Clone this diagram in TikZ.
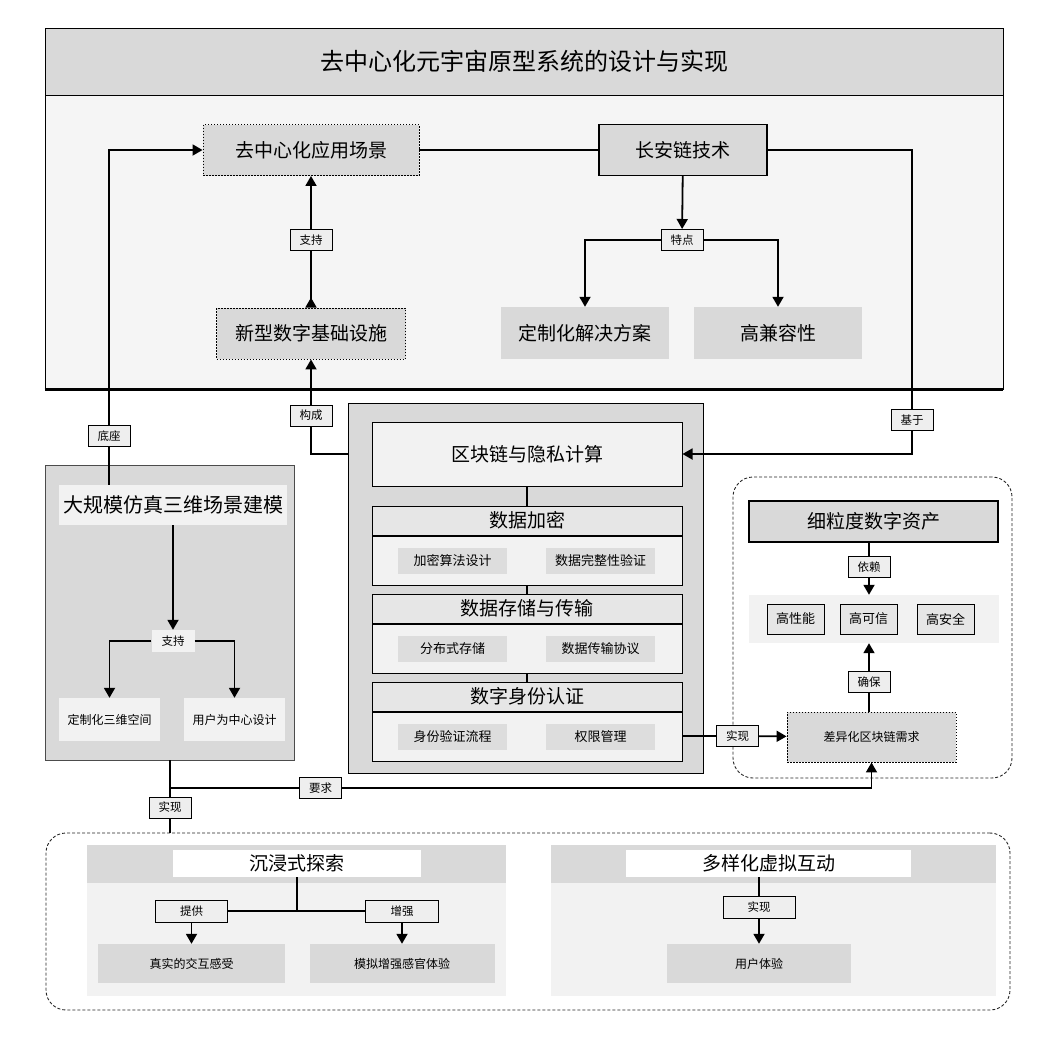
\documentclass[tikz,border=0pt]{standalone}
\usepackage{fontspec}
\setmainfont{Noto Sans CJK SC}
\usetikzlibrary{arrows.meta, positioning, calc}
\definecolor{gdark}{RGB}{217,217,217}
\definecolor{gpanel}{RGB}{245,245,245}
\definecolor{glight}{RGB}{242,242,242}
\definecolor{ghead}{RGB}{230,230,230}
\definecolor{gtag}{RGB}{238,238,238}
\definecolor{gitem}{RGB}{221,221,221}
\newcommand\fsTitle{\fontsize{24}{28}\selectfont}
\newcommand\fsBig{\fontsize{19}{22}\selectfont}
\newcommand\fsMid{\fontsize{13}{16}\selectfont}
\newcommand\fsSmall{\fontsize{12}{15}\selectfont}
\newcommand\fsTag{\fontsize{11.5}{14}\selectfont}

\begin{document}
\begin{tikzpicture}[x=1pt, y=-1pt,
  sz/.style 2 args={minimum width=#1, minimum height=#2},
  box/.style={inner sep=0pt, align=center},
  dark/.style={box, fill=gdark},
  dotbox/.style={dark, draw=black, line width=0.9pt, dash pattern=on 1.5pt off 1.5pt},
  solidbox/.style={dark, draw=black, line width=1.1pt},
  light/.style={box, fill=glight},
  tag/.style={box, fill=gtag, draw=black, line width=1pt, sz={42}{21}, font=\fsTag},
  conn/.style={line width=1.8pt},
  arr/.style={conn, -{Triangle[length=10pt, width=11pt]}},
  frame/.style={box, draw=black!85, line width=0.9pt, dash pattern=on 3pt off 2pt, rounded corners=20pt}]

  \useasboundingbox (0,0) rectangle (1051,1039);

  % system frame
  \node[dark, draw=black, line width=0.9pt, sz={958}{67}, font=\fsTitle] (head) at (524,61.5) {去中心化元宇宙原型系统的设计与实现};
  \node[box, fill=gpanel, draw=black, line width=0.9pt, sz={958}{294}] (panel) at (524,242) {};
  \draw[line width=2.5pt] (panel.south west) -- (panel.south east);

  \node[dotbox, sz={216}{51}, font=\fsBig] (app) at (311,150) {去中心化应用场景};
  \node[solidbox, sz={168}{51}, font=\fsBig] (chain) at (683,150) {长安链技术};
  \node[tag] (feat) at (682,240) {特点};
  \node[dark, sz={168}{52}, font=\fsBig] (custom) at (585,333) {定制化解决方案};
  \node[dark, sz={168}{52}, font=\fsBig] (compat) at (778,333) {高兼容性};
  \node[dotbox, sz={189}{51}, font=\fsBig] (infra) at (311,333.5) {新型数字基础设施};
  \node[tag] (support) at (311,240) {支持};

  \draw[conn] (app) -- (chain);
  \draw[arr] (chain) -- (feat);
  \draw[arr] (feat) -| (custom);
  \draw[arr] (feat) -| (compat);
  \draw[arr] (support) -- (app);
  \draw[conn, {Triangle[length=10pt, width=11pt, reversed]}-] (infra) -- (support);

  % simulation block
  \node[dark, draw=black!70, line width=0.9pt, sz={249}{295}] (simbox) at (169.5,612.5) {};
  \node[light, sz={228}{40}, font=\fontsize{20}{23}\selectfont] (simtitle) at (173,505) {大规模仿真三维场景建模};
  \node[light, sz={43}{22}, font=\fsTag] (sup2) at (173,641) {支持};
  \node[light, sz={101}{43}, font=\fsSmall] (cust3d) at (109.5,719.5) {定制化三维空间};
  \node[light, sz={101}{43}, font=\fsSmall] (usercd) at (234.5,719.5) {用户为中心设计};
  \node[tag] (base) at (109,436) {底座};

  \draw[arr] (simtitle) -- (sup2);
  \draw[arr] (sup2) -| (cust3d);
  \draw[arr] (sup2) -| (usercd);
  \draw[conn] (simtitle.north -| base) -- (base);
  \draw[arr] (base) |- (app);

  % blockchain core
  \node[dark, draw=black, line width=0.9pt, sz={355}{370}] (core) at (525.5,588) {};
  \node[light, draw=black, line width=1pt, sz={310}{64}, font=\fsBig] (bc) at (527,454) {区块链与隐私计算};
  \foreach \nm/\ttl/\ia/\ib/\y in {enc/数据加密/加密算法设计/数据完整性验证/506,
      sto/数据存储与传输/分布式存储/数据传输协议/594,
      idn/数字身份认证/身份验证流程/权限管理/682} {
    \node[box, fill=ghead, draw=black, line width=1pt, sz={310}{29}, font=\fsBig] (\nm-h) at (527,\y+14.5) {\ttl};
    \node[light, draw=black, line width=1pt, sz={310}{49}, below=0pt of \nm-h] (\nm-b) {};
    \node[box, fill=gitem, sz={109}{26}, font=\fsMid] (\nm-l) at ([xshift=-74.5]\nm-b.center) {\ia};
    \node[box, fill=gitem, sz={109}{26}, font=\fsMid] (\nm-r) at ([xshift=73.5]\nm-b.center) {\ib};
  }
  \draw[conn] (bc) -- (enc-h);
  \draw[conn] (enc-b) -- (sto-h);
  \draw[conn] (sto-b) -- (idn-h);

  \node[tag] (compose) at (311,415.5) {构成};
  \draw[conn] (core.west |- bc) -| (compose);
  \draw[arr] (compose) -- (infra);

  \node[tag] (based) at (912,420) {基于};
  \draw[conn] (chain) -| (based);
  \draw[arr] (based) |- (bc);

  % digital assets
  \node[frame, sz={279}{301}] (assetframe) at (872.5,627.5) {};
  \node[solidbox, sz={249}{41}, font=\fsBig] (asset) at (873.5,521.5) {细粒度数字资产};
  \node[light, sz={250}{48}] (qpanel) at (874,619) {};
  \foreach \nm/\txt/\x in {perf/高性能/795.5, trust/高可信/868.5, safe/高安全/945.5}
    \node[box, fill=ghead, draw=black, line width=1pt, sz={57}{30}, font=\fsMid] (\nm) at (\x,619) {\txt};
  \node[tag] (rely) at (869,567) {依赖};
  \node[tag] (ensure) at (869,682) {确保};
  \node[dotbox, sz={169}{50}, font=\fsSmall] (diff) at (871.5,737) {差异化区块链需求};
  \node[tag] (impl1) at (737.5,736) {实现};

  \draw[conn] (asset.south -| rely) -- (rely);
  \draw[arr] (rely) -- (qpanel.north -| rely);
  \draw[conn] (diff.north -| ensure) -- (ensure);
  \draw[arr] (ensure) -- (qpanel.south -| ensure);
  \draw[conn] (idn-b.east |- impl1) -- (impl1);
  \draw[arr] (impl1) -- (diff);

  % experience
  \node[tag] (need) at (320.5,788) {要求};
  \node[tag] (impl2) at (170,807.5) {实现};
  \node[frame, sz={964}{177}] (botframe) at (528,921.5) {};
  \draw[conn] (simbox.south -| impl2) -- (impl2);
  \draw[conn] (impl2) -- (impl2 |- botframe.north);
  \draw[conn] (impl2 |- need) -- (need);
  \draw[arr] (need) -| (diff);

  \node[dark, sz={419}{38}] (exph) at (296.5,864) {};
  \node[light, sz={419}{113}, below=0pt of exph] (expb) {};
  \node[box, fill=white, sz={248}{27}, font=\fsBig] (exptitle) at (297,863.5) {沉浸式探索};
  \node[tag, sz={72}{22}] (provide) at (191.5,911) {提供};
  \node[tag, sz={73}{22}] (boost) at (402,911) {增强};
  \node[dark, sz={187}{39}, font=\fsSmall] (real) at (191.5,963.5) {真实的交互感受};
  \node[dark, sz={185}{39}, font=\fsSmall] (simsense) at (402,963.5) {模拟增强感官体验};
  \draw[conn] (provide) -- (boost);
  \draw[conn] (exptitle) -- (exptitle |- provide);
  \draw[arr] (provide) -- (real);
  \draw[arr] (boost) -- (simsense);

  \node[dark, sz={445}{38}] (inth) at (773.5,864) {};
  \node[light, sz={445}{113}, below=0pt of inth] (intb) {};
  \node[box, fill=white, sz={285}{27}, font=\fsBig] (inttitle) at (768.5,863.5) {多样化虚拟互动};
  \node[tag, sz={72}{22}] (impl3) at (759,907) {实现};
  \node[dark, sz={184}{39}, font=\fsSmall] (ux) at (759,963.5) {用户体验};
  \draw[conn] (inttitle.south -| impl3) -- (impl3);
  \draw[arr] (impl3) -- (ux);
\end{tikzpicture}
\end{document}
